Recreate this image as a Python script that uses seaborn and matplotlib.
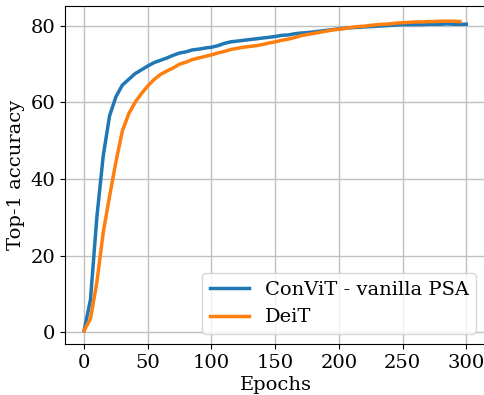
import matplotlib
matplotlib.use("Agg")
import matplotlib.pyplot as plt
import seaborn as sns
import numpy as np

plt.rcParams['font.family'] = ['DejaVu Serif']

epochs_convit = list(range(0, 301, 5))
acc_convit = [0.4, 8.5, 30.0, 46.0, 56.5, 61.5, 64.5, 66.0, 67.5, 68.5,
              69.5, 70.4, 71.0, 71.6, 72.3, 72.9, 73.2, 73.7, 73.9, 74.2,
              74.4, 74.8, 75.4, 75.8, 76.0, 76.2, 76.4, 76.6, 76.8, 77.0,
              77.2, 77.5, 77.6, 77.9, 78.1, 78.2, 78.4, 78.6, 78.8, 79.0,
              79.2, 79.4, 79.5, 79.6, 79.7, 79.8, 79.9, 80.0, 80.1, 80.2,
              80.3, 80.3, 80.3, 80.3, 80.4, 80.4, 80.4, 80.5, 80.4, 80.4,
              80.4]

epochs_deit = list(range(0, 296, 5))
acc_deit = [0.4, 3.5, 13.0, 26.0, 35.5, 44.5, 52.5, 57.0, 60.0, 62.3,
            64.3, 66.0, 67.3, 68.2, 69.0, 70.0, 70.5, 71.2, 71.6, 72.0,
            72.4, 72.9, 73.3, 73.8, 74.1, 74.4, 74.6, 74.8, 75.1, 75.5,
            75.8, 76.2, 76.5, 76.9, 77.4, 77.7, 78.0, 78.3, 78.6, 78.9,
            79.1, 79.3, 79.6, 79.8, 79.9, 80.1, 80.3, 80.4, 80.5, 80.7,
            80.8, 80.9, 81.0, 81.0, 81.1, 81.1, 81.2, 81.2, 81.2, 81.1]

fig = plt.figure(figsize=(4.84, 3.95), dpi=100)
ax = fig.add_axes([65/484, 51/395, 421/484, 338.5/395])

sns.lineplot(x=epochs_convit, y=acc_convit, ax=ax, color='#1f77b4', lw=2.5,
             label='ConViT - vanilla PSA')
sns.lineplot(x=epochs_deit, y=acc_deit, ax=ax, color='#ff7f0e', lw=2.5,
             label='DeiT')

ax.set_xlim(-15, 315.5)
ax.set_ylim(-3.1, 85.3)
ax.set_xticks([0, 50, 100, 150, 200, 250, 300])
ax.set_yticks([0, 20, 40, 60, 80])
ax.tick_params(labelsize=14)
ax.spines['right'].set_visible(False)
ax.grid(True, color='#c0c0c0', lw=1.0)
ax.set_axisbelow(True)
ax.set_xlabel('Epochs', fontsize=14, labelpad=3)
ax.set_ylabel('Top-1 accuracy', fontsize=14)
ax.legend(loc='lower right', fontsize=14, handlelength=2.0)

fig.savefig('out.png', dpi=100)
